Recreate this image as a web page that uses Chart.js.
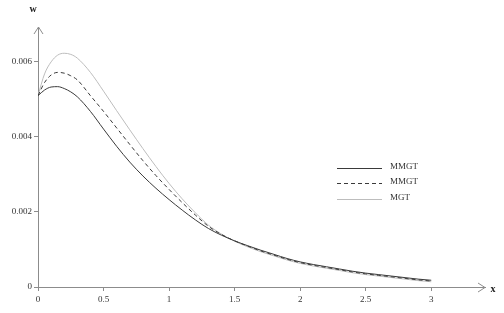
<!DOCTYPE html>
<html>
<head>
<meta charset="utf-8">
<script src="https://cdn.jsdelivr.net/npm/chart.js@4.4.0/dist/chart.umd.min.js"></script>
<style>
  html, body { margin: 0; padding: 0; background: #fff; }
  #wrap { width: 504px; height: 313px; }
</style>
</head>
<body>
<div id="wrap"><canvas id="myChart" width="504" height="313"></canvas></div>
<script>
const xValues = [0, 0.05, 0.1, 0.15, 0.2, 0.25, 0.3, 0.4, 0.5, 0.6, 0.7, 0.8, 0.9, 1.0,
  1.1, 1.2, 1.3, 1.4, 1.5, 1.6, 1.7, 1.8, 1.9, 2.0, 2.1, 2.2, 2.3, 2.4, 2.5, 2.6, 2.7, 2.8, 2.9, 3.0];

const mmgtSolid = [0.00510, 0.00525, 0.00533, 0.00534, 0.00529, 0.00520, 0.00507, 0.00468, 0.00421, 0.00375,
  0.00333, 0.00296, 0.00263, 0.00233, 0.00205, 0.00179, 0.00156, 0.00138, 0.00123, 0.00110,
  0.00098, 0.00087, 0.00076, 0.00067, 0.00060, 0.00054, 0.00048, 0.00042, 0.00037, 0.00033,
  0.00029, 0.00025, 0.00021, 0.00018];

const mmgtDashed = [0.00510, 0.00545, 0.00565, 0.00572, 0.00570, 0.00563, 0.00552, 0.00510, 0.00468, 0.00424,
  0.00380, 0.00337, 0.00297, 0.00260, 0.00225, 0.00192, 0.00162, 0.00140, 0.00123, 0.00109,
  0.00096, 0.00085, 0.00074, 0.00065, 0.00058, 0.00052, 0.00046, 0.00040, 0.00035, 0.00031,
  0.00027, 0.00023, 0.00019, 0.00016];

const mgt = [0.00510, 0.00568, 0.00600, 0.00618, 0.00623, 0.00620, 0.00610, 0.00572, 0.00522, 0.00470,
  0.00419, 0.00369, 0.00321, 0.00276, 0.00235, 0.00198, 0.00165, 0.00141, 0.00122, 0.00107,
  0.00094, 0.00083, 0.00072, 0.00063, 0.00056, 0.00050, 0.00044, 0.00038, 0.00033, 0.00029,
  0.00025, 0.00021, 0.00017, 0.00014];

const seriesLabels = ['MMGT', 'MMGT', 'MGT'];
const xTicks = [0, 0.5, 1, 1.5, 2, 2.5, 3];
const yTicks = [0, 0.002, 0.004, 0.006];

const serif = "'Liberation Serif', 'DejaVu Serif', serif";
const axisColor = '#8c8c8c';

function toPoints(ys){
  return xValues.map((x, i) => ({x: x, y: ys[i]}));
}

// axis arrows, axis titles and the legend box on the right
const extras = {
  id: 'extras',
  afterDraw(chart){
    const ctx = chart.ctx;
    const xs = chart.scales.x, ys = chart.scales.y;
    const x0 = xs.left, y0 = ys.bottom;
    ctx.save();
    ctx.strokeStyle = axisColor;
    ctx.lineWidth = 1;
    // y arrow
    ctx.beginPath();
    ctx.moveTo(x0 - 4, ys.top + 7);
    ctx.lineTo(x0 + 0.5, ys.top);
    ctx.lineTo(x0 + 5, ys.top + 7);
    ctx.stroke();
    // x arrow
    ctx.beginPath();
    ctx.moveTo(xs.right - 7, y0 - 4);
    ctx.lineTo(xs.right, y0 + 0.5);
    ctx.lineTo(xs.right - 7, y0 + 5);
    ctx.stroke();

    ctx.fillStyle = '#222';
    ctx.font = 'bold 10px ' + serif;
    ctx.textAlign = 'center';
    ctx.textBaseline = 'middle';
    ctx.fillText('w', 33, 9);
    ctx.fillText('x', 493, 289);

    // legend
    const rows = [168, 183, 199];
    chart.data.datasets.forEach((ds, i) => {
      ctx.strokeStyle = ds.borderColor;
      ctx.lineWidth = ds.borderWidth;
      ctx.setLineDash(ds.borderDash || []);
      ctx.beginPath();
      ctx.moveTo(337, rows[i] + 0.5);
      ctx.lineTo(382, rows[i] + 0.5);
      ctx.stroke();
      ctx.setLineDash([]);
      ctx.fillStyle = '#333';
      ctx.font = '9px ' + serif;
      ctx.textAlign = 'left';
      ctx.fillText(ds.label, 390, rows[i] - 1);
    });
    ctx.restore();
  }
};

const canvas = document.getElementById('myChart');
const myChart = new Chart(canvas, {
  type: 'line',
  data: {
    datasets: [
      {
        label: seriesLabels[0],
        data: toPoints(mmgtSolid),
        borderColor: '#3a3a3a',
        borderWidth: 1,
        pointRadius: 0,
        cubicInterpolationMode: 'monotone'
      },
      {
        label: seriesLabels[1],
        data: toPoints(mmgtDashed),
        borderColor: '#3a3a3a',
        borderWidth: 1,
        borderDash: [4, 3],
        pointRadius: 0,
        cubicInterpolationMode: 'monotone'
      },
      {
        label: seriesLabels[2],
        data: toPoints(mgt),
        borderColor: '#bdbdbd',
        borderWidth: 1,
        pointRadius: 0,
        cubicInterpolationMode: 'monotone'
      }
    ]
  },
  options: {
    responsive: false,
    animation: false,
    layout: { padding: { top: 27, right: 19, left: 0, bottom: 0 } },
    plugins: {
      legend: { display: false },
      tooltip: { enabled: false }
    },
    scales: {
      x: {
        type: 'linear',
        min: 0,
        max: 3.41,
        afterBuildTicks: s => { s.ticks = xTicks.map(v => ({value: v})); },
        afterFit: s => { s.height = 26; },
        grid: { drawOnChartArea: false, color: axisColor, tickLength: 4 },
        border: { color: axisColor },
        ticks: {
          padding: 3,
          color: '#333',
          font: { family: serif, size: 9 },
          maxRotation: 0,
          callback: v => String(v)
        }
      },
      y: {
        min: 0,
        max: 0.00693,
        afterBuildTicks: s => { s.ticks = yTicks.map(v => ({value: v})); },
        afterFit: s => { s.width = 38; },
        grid: { drawOnChartArea: false, color: axisColor, tickLength: 4 },
        border: { color: axisColor },
        ticks: {
          padding: 2,
          color: '#333',
          font: { family: serif, size: 9 },
          callback: v => String(v)
        }
      }
    }
  },
  plugins: [extras]
});
</script>
</body>
</html>
